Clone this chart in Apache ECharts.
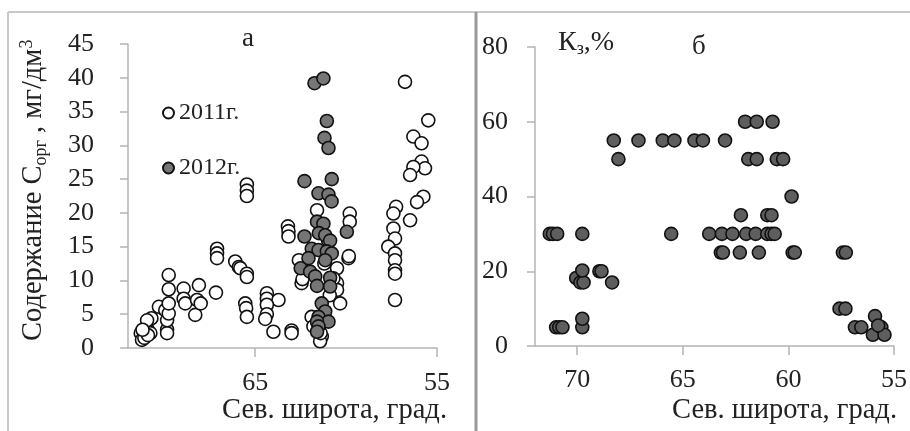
<!DOCTYPE html>
<html>
<head>
<meta charset="utf-8">
<script src="https://cdn.jsdelivr.net/npm/echarts@6/dist/echarts.min.js"></script>
<style>html,body{margin:0;padding:0;background:#fff}#c{width:910px;height:431px}</style>
</head>
<body>
<div id="c"></div>
<script>
// Panel a: Corg content (mg/dm3) vs latitude
var data2011 = [
  [71.3,2.2],[71.23,1.2],[71.1,1.5],[70.95,2.9],[70.77,2.2],[70.9,1.9],[70.71,4.4],[70.95,4.1],[71.2,2.7],[70.1,5.9],[70.3,6.1],
  [69.85,2.7],[69.85,2.2],[69.85,4.1],[69.95,5.6],[69.76,5.1],[69.76,6.6],[69.76,8.7],[69.76,10.8],
  [68.94,8.8],[68.94,7.3],[68.85,6.6],
  [68.3,4.9],[68.1,9.3],[68.2,7.1],[68.0,6.6],
  [67.16,8.2],[67.1,14.7],[67.1,14.0],[67.1,13.3],
  [66.1,12.8],[65.9,12.0],[65.82,11.8],[65.46,11.0],[65.46,10.5],
  [65.46,24.2],[65.46,23.3],[65.46,22.5],
  [65.55,6.6],[65.5,5.9],[65.46,4.6],
  [64.36,8.1],[64.36,7.3],[63.72,7.1],[64.36,6.4],[64.36,5.0],[64.45,4.3],[64.0,2.4],
  [63.0,2.6],[63.0,2.2],
  [63.2,18.0],[63.17,17.3],[63.17,16.5],
  [62.6,13.0],[62.45,9.6],[62.4,10.2],
  [61.6,20.4],[61.9,4.6],[61.8,3.2],[61.34,1.7],[61.43,1.0],[61.4,2.2],
  [59.8,19.9],[59.8,18.7],[59.87,13.3],[59.85,13.6],
  [60.5,9.6],[60.5,8.6],[60.33,6.6],[60.5,11.8],[60.7,10.3],
  [61.2,12.5],[61.0,16.0],[60.9,7.8],
  [56.76,39.4],[55.48,33.7],[56.3,31.3],[55.85,30.3],[55.85,27.6],[55.66,26.6],[56.3,26.8],[56.48,25.6],[55.75,22.4],[56.1,21.6],[56.48,18.9],
  [57.25,20.9],[57.4,19.9],[57.4,17.7],[57.31,16.2],[57.68,15.0],[57.31,14.0],[57.31,13.0],[57.31,11.5],[57.31,11.0],[57.31,7.1]
];
var data2012 = [
  [61.74,39.2],[61.25,39.9],[61.06,33.6],[61.19,31.1],[60.97,29.6],
  [62.29,24.7],[60.79,25.0],
  [61.52,22.9],[60.97,22.7],[60.8,21.7],
  [61.6,18.7],[61.25,18.4],
  [61.5,17.0],[61.15,16.7],[60.88,15.9],[62.29,16.5],[59.96,17.2],
  [61.89,14.7],[61.52,14.5],[61.06,14.3],[60.79,14.0],
  [62.07,13.3],[61.15,13.0],
  [62.5,11.8],[61.98,11.3],[61.7,10.6],[60.88,10.4],[60.88,9.1],[61.6,9.2],
  [61.34,6.6],[61.15,5.4],[61.52,4.6],[60.97,3.9],[61.6,3.9],[61.52,3.2],[61.6,2.4]
];
// Panel b: Kз, %
var dataK = [
  [71.3,30],[71.15,30],[70.95,30],[69.76,30],
  [71.0,5],[70.85,5],[70.7,5],
  [69.76,5],[69.76,7.3],
  [70.05,18.2],[69.85,17],[69.7,17],[69.76,20.2],
  [68.95,20],[68.85,20],[68.35,17],
  [68.27,55],[68.05,50],[67.1,55],[65.95,55],[65.4,55],[64.45,55],[64.05,55],[63.0,55],
  [65.55,30],
  [62.05,60],[61.5,60],[60.75,60],
  [61.9,50],[61.5,50],[60.55,50],[60.25,50],
  [59.85,40],
  [62.25,35],[61.0,35],[60.8,35],
  [63.75,30],[63.15,30],[62.65,30],[62.0,30],[61.55,30],[61.0,30],[60.8,30],[60.65,30],
  [63.2,25],[63.1,25],[62.3,25],[61.4,25],[59.8,25],[59.7,25],[57.42,25],[57.28,25],
  [57.58,10],[57.3,10],
  [56.85,5],[56.55,5],[55.9,8],[56.0,3],[55.6,5],[55.45,3],[55.75,5.5]
];
var xTicksA = [55, 65];
var xTicksB = [55, 60, 65, 70];
var seriesNames = ['2011г.', '2012г.', 'Кз'];

var FONT = 'Liberation Serif';
var axisLineStyle = {color: '#b4b4b4', width: 1.5};
var chart = echarts.init(document.getElementById('c'), null, {renderer: 'canvas'});

function xAxisCfg(gi, ticks, margin) {
  return {
    gridIndex: gi, type: 'value', min: 55, max: 72, inverse: true,
    axisLine: {show: true, lineStyle: axisLineStyle},
    axisTick: {show: true, length: 9, lineStyle: axisLineStyle, customValues: ticks},
    axisLabel: {fontFamily: FONT, fontSize: 26, color: '#222', margin: margin, customValues: ticks},
    splitLine: {show: false}
  };
}
function yAxisCfg(gi, max, interval, margin) {
  return {
    gridIndex: gi, type: 'value', min: 0, max: max, interval: interval,
    axisLine: {show: true, lineStyle: axisLineStyle},
    axisTick: {show: true, length: 8, lineStyle: axisLineStyle},
    axisLabel: {fontFamily: FONT, fontSize: 26, color: '#222', margin: margin},
    splitLine: {show: false}
  };
}

var option = {
  animation: false,
  backgroundColor: '#fff',
  grid: [
    {left: 128, right: 473, top: 44, bottom: 83},
    {left: 535, right: 15, top: 47, bottom: 85}
  ],
  xAxis: [xAxisCfg(0, xTicksA, 22), xAxisCfg(1, xTicksB, 21)],
  yAxis: [yAxisCfg(0, 45, 5, 34), yAxisCfg(1, 80, 20, 27)],
  legend: {
    data: [seriesNames[0], seriesNames[1]],
    orient: 'vertical', left: 157, top: 96, itemGap: 31,
    itemWidth: 11, itemHeight: 11,
    textStyle: {fontFamily: FONT, fontSize: 24, color: '#222'}
  },
  series: [
    {name: seriesNames[0], type: 'scatter', xAxisIndex: 0, yAxisIndex: 0, data: data2011,
     symbol: 'circle', symbolSize: 13,
     itemStyle: {color: '#ffffff', borderColor: '#111', borderWidth: 1.6, opacity: 1},
     emphasis: {disabled: true}},
    {name: seriesNames[1], type: 'scatter', xAxisIndex: 0, yAxisIndex: 0, data: data2012,
     symbol: 'circle', symbolSize: 13,
     itemStyle: {color: '#767676', borderColor: '#111', borderWidth: 1.6, opacity: 1},
     emphasis: {disabled: true}},
    {name: seriesNames[2], type: 'scatter', xAxisIndex: 1, yAxisIndex: 1, data: dataK,
     symbol: 'circle', symbolSize: 13,
     itemStyle: {color: '#5e5e5e', borderColor: '#111', borderWidth: 1.6, opacity: 1},
     emphasis: {disabled: true}}
  ],
  graphic: [
    {type: 'line', shape: {x1: 8, y1: 12, x2: 910, y2: 12}, style: {stroke: '#c8c8c8', lineWidth: 2}, silent: true},
    {type: 'line', shape: {x1: 8, y1: 12, x2: 8, y2: 431}, style: {stroke: '#c8c8c8', lineWidth: 2}, silent: true},
    {type: 'line', shape: {x1: 476, y1: 12, x2: 476, y2: 431}, style: {stroke: '#9a9a9a', lineWidth: 3}, silent: true},
    {type: 'text', left: 242, top: 25, style: {text: 'а', font: '27px "Liberation Serif"', fill: '#222'}},
    {type: 'text', left: 692, top: 33, style: {text: 'б', font: '27px "Liberation Serif"', fill: '#222'}},
    {type: 'text', left: 558, top: 29, style: {
      text: 'К{s|з},%', font: '28px "Liberation Serif"', fill: '#222',
      rich: {s: {fontSize: 18, fontFamily: FONT, fill: '#222', padding: [13, 0, 0, 0]}}
    }},
    {type: 'text', right: 463, top: 396, style: {text: 'Сев. широта, град.', font: '28.5px "Liberation Serif"', fill: '#222'}},
    {type: 'text', right: 13, top: 396, style: {text: 'Сев. широта, град.', font: '28.5px "Liberation Serif"', fill: '#222'}},
    {type: 'text', x: 17, y: 341, rotation: Math.PI / 2, style: {
      text: 'Содержание С{sub|орг} , мг/дм{sup|3}', font: '28.5px "Liberation Serif"', fill: '#222',
      rich: {
        sub: {fontSize: 18, fontFamily: FONT, fill: '#222', padding: [15, 0, 0, 0]},
        sup: {fontSize: 18, fontFamily: FONT, fill: '#222', padding: [0, 0, 13, 0]}
      }
    }}
  ]
};
chart.setOption(option);
</script>
</body>
</html>
